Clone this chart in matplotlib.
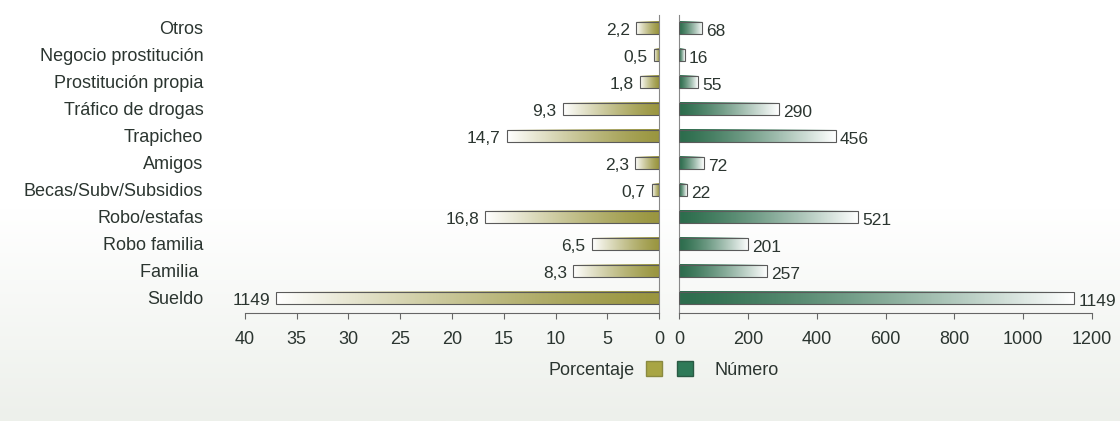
import numpy as np
import matplotlib
matplotlib.use('Agg')
import matplotlib.pyplot as plt
from matplotlib.colors import LinearSegmentedColormap
from matplotlib.patches import Patch

# Data (top to bottom as shown)
categories = ['Otros', 'Negocio prostitución', 'Prostitución propia', 'Tráfico de drogas',
              'Trapicheo', 'Amigos', 'Becas/Subv/Subsidios', 'Robo/estafas',
              'Robo familia', 'Familia ', 'Sueldo']
porcentaje = [2.2, 0.5, 1.8, 9.3, 14.7, 2.3, 0.7, 16.8, 6.5, 8.3, 37.0]
pct_labels = ['2,2', '0,5', '1,8', '9,3', '14,7', '2,3', '0,7', '16,8', '6,5', '8,3', '1149']
numero = [68, 16, 55, 290, 456, 72, 22, 521, 201, 257, 1149]
pct_ticks = [40, 35, 30, 25, 20, 15, 10, 5, 0]
num_ticks = [0, 200, 400, 600, 800, 1000, 1200]

OLIVE = '#9a9640'
GREEN = '#2d6d4d'
TXT = '#2b3530'

plt.rcParams['font.family'] = ['Liberation Sans', 'DejaVu Sans']
plt.rcParams['font.size'] = 12

fig = plt.figure(figsize=(11.2, 4.21), dpi=100)

# background: white top fading to pale grey-green
bg = fig.add_axes([0, 0, 1, 1], zorder=-10)
g = np.clip((np.linspace(0, 1, 200) - 0.5) / 0.5, 0, 1)[:, None]
bg_cmap = LinearSegmentedColormap.from_list('bg', ['#ffffff', '#edf0eb'])
bg.imshow(g, cmap=bg_cmap, aspect='auto', extent=(0, 1, 0, 1))
bg.axis('off')

y = np.arange(len(categories))[::-1]
bottom, height = 1 - 313 / 421, (313 - 15) / 421
axL = fig.add_axes([245 / 1120, bottom, (659 - 245) / 1120, height])
axR = fig.add_axes([679 / 1120, bottom, (1092 - 679) / 1120, height])


def gradient_bars(ax, vals, color):
    cmap = LinearSegmentedColormap.from_list('g', [color, '#ffffff'])
    bars = ax.barh(y, vals, height=0.45, facecolor='none', edgecolor='#5a5a5a', linewidth=0.8, zorder=3)
    ramp = np.linspace(0, 1, 256)[None, :] ** 1.3
    for p in bars:
        x0, y0, w, h = p.get_x(), p.get_y(), p.get_width(), p.get_height()
        ax.imshow(ramp, extent=(x0, x0 + w, y0, y0 + h), cmap=cmap, vmin=0, vmax=1,
                  aspect='auto', clip_path=p, zorder=2)
    return bars


gradient_bars(axL, porcentaje, OLIVE)
gradient_bars(axR, numero, GREEN)

for ax in (axL, axR):
    ax.set_facecolor('none')
    ax.set_ylim(-0.56, 10.48)
    ax.spines['top'].set_visible(False)
    ax.spines['bottom'].set_color('#666666')
    ax.tick_params(axis='x', length=4, color='#666666', labelcolor=TXT, labelsize=13, pad=9)

axL.set_xlim(40, 0)
axL.set_xticks(pct_ticks)
axL.spines['left'].set_visible(False)
axL.spines['right'].set_color('#888888')
axL.set_yticks(y)
axL.set_yticklabels(categories)
axL.tick_params(axis='y', length=0, pad=30, labelcolor=TXT, labelsize=13)

axR.set_xlim(0, 1200)
axR.set_xticks(num_ticks)
axR.spines['right'].set_visible(False)
axR.spines['left'].set_color('#888888')
axR.set_yticks([])

for yi, v, lab in zip(y, porcentaje, pct_labels):
    axL.text(v + 0.6, yi - 0.1, lab, ha='right', va='center', color=TXT, fontsize=12.5)
for yi, v in zip(y, numero):
    axR.text(v + 12, yi - 0.12, str(v), ha='left', va='center', color=TXT, fontsize=12.5)

# legend
fig.legend(handles=[Patch(facecolor='#a8a544', edgecolor='#8a8a40')], labels=['Porcentaje'],
           loc='center right', bbox_to_anchor=(662 / 1120, 1 - 370 / 421), frameon=False,
           markerfirst=False, handlelength=0.9, handleheight=0.9, handletextpad=0.6,
           borderpad=0, borderaxespad=0, fontsize=13, labelcolor=TXT)
fig.legend(handles=[Patch(facecolor='#2e7a58', edgecolor='#2a5a44')], labels=['Número'],
           loc='center left', bbox_to_anchor=(677 / 1120, 1 - 370 / 421), frameon=False,
           handlelength=0.9, handleheight=0.9, handletextpad=1.2,
           borderpad=0, borderaxespad=0, fontsize=13, labelcolor=TXT)

fig.savefig('out.png', dpi=100)
